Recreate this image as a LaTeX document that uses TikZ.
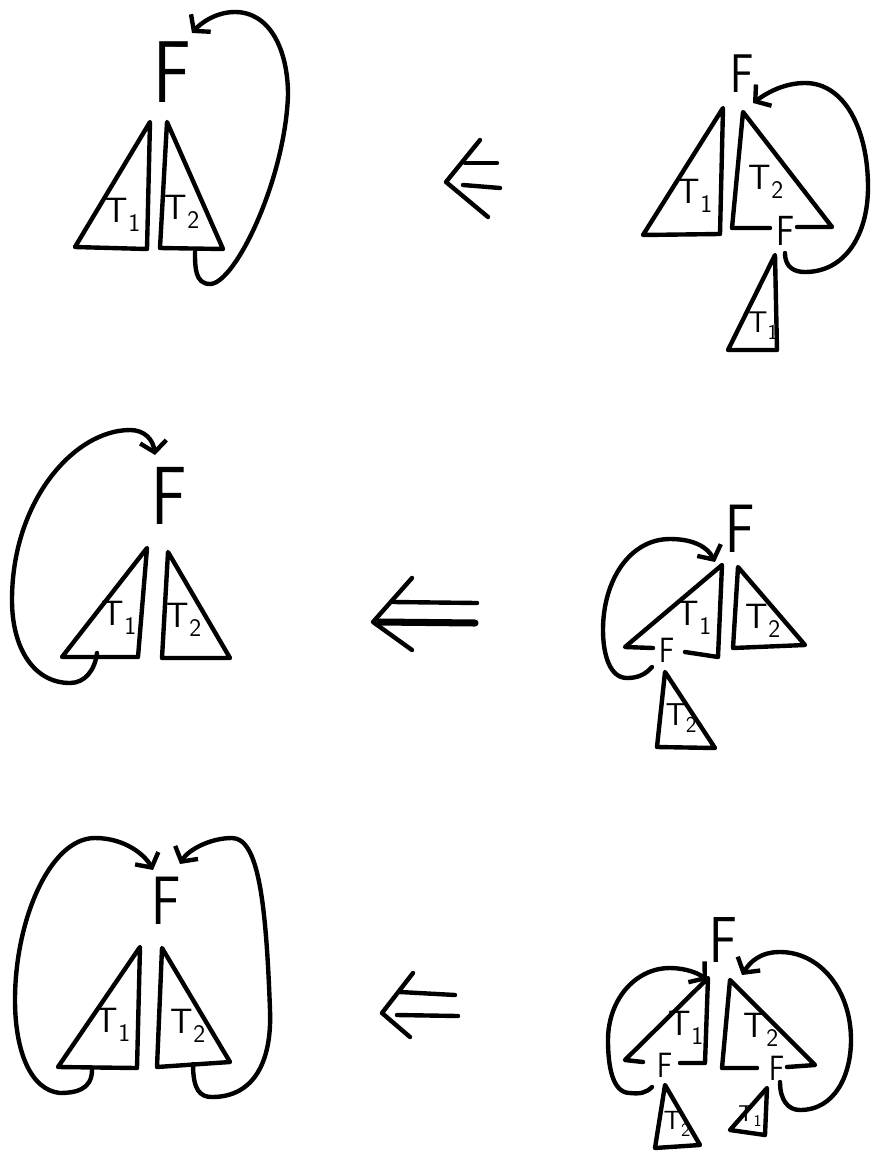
\documentclass[tikz,border=0pt]{standalone}
\usepackage{graphicx}
\usetikzlibrary{arrows.meta}
\tikzset{
  pen/.style={line width=2.5pt, line cap=round, line join=round},
  tri/.style={pen},
  back/.style={pen, -{Straight Barb[length=6pt, width=15pt]}},
  letterF/.style={inner sep=0pt, font=\sffamily\fontsize{#1}{#1}\selectfont},
  tlab/.style={inner sep=0pt, font=\sffamily\fontsize{#1}{#1}\selectfont}
}
\newcommand{\lF}{\scalebox{0.8}[1]{F}}
\newcommand{\tsub}[1]{\raisebox{-0.55ex}{\scalebox{0.72}{#1}}}

\begin{document}
\begin{tikzpicture}[x=0.02cm, y=-0.02cm]
\useasboundingbox (0,0) rectangle (873,1170);

% row 1, left
\node[letterF=50] (f1) at (172,72) {\lF};
\draw[tri] (150,122) -- (75,247) -- (147,249) -- cycle;
\draw[tri] (167,122) -- (160,248) -- (223,249) -- cycle;
\node[tlab=20] (t11) at (123,215) {T\tsub{1}};
\node[tlab=20] (t12) at (182,212) {T\tsub{2}};
\coordinate (b1s) at (195,252);
\coordinate (b1e) at (192,33);
\draw[back] (b1s) .. controls (195,267) and (195,284) .. (210,284)
  .. controls (235,284) and (285,180) .. (288,95)
  .. controls (288,50) and (270,12) .. (235,12)
  .. controls (215,12) and (200,24) .. (b1e);

% row 1, right
\node[letterF=31] (f2) at (742,74) {\lF};
\draw[tri] (723,108) -- (643,235) -- (720,234) -- cycle;
\draw[tri] (770,228) -- (732,228) -- (743,112) -- (832,227) -- (797,227);
\node[letterF=24] (f2s) at (786,231) {\lF};
\draw[tri] (775,255) -- (728,350) -- (777,350) -- cycle;
\node[tlab=20] (t21) at (695,196) {T\tsub{1}};
\node[tlab=20] (t22) at (766,182) {T\tsub{2}};
\node[tlab=17] (t21s) at (763,326) {T\tsub{1}};
\coordinate (b2s) at (785,253);
\coordinate (b2e) at (753,103);
\draw[back] (b2s) .. controls (785,268) and (795,272) .. (805,272)
  .. controls (845,272) and (868,235) .. (868,187)
  .. controls (868,130) and (845,83) .. (805,83)
  .. controls (785,83) and (768,92) .. (b2e);

% implication 1
\draw[pen] (480,140) -- (446,182) -- (488,217);
\draw[pen] (465,163) -- (497,163);
\draw[pen] (463,185) -- (500,188);

% row 2, left
\node[letterF=47] (f3) at (169,496) {\lF};
\draw[tri] (147,548) -- (62,657) -- (138,657) -- cycle;
\draw[tri] (168,552) -- (162,658) -- (230,658) -- cycle;
\node[tlab=20] (t31) at (119,618) {T\tsub{1}};
\node[tlab=20] (t32) at (184,620) {T\tsub{2}};
\coordinate (b3s) at (97,653);
\coordinate (b3e) at (155,455);
\draw[back] (b3s) .. controls (95,670) and (85,683) .. (70,683)
  .. controls (35,683) and (12,650) .. (12,600)
  .. controls (12,500) and (75,430) .. (130,430)
  .. controls (145,430) and (153,440) .. (b3e);

% row 2, right
\node[letterF=39] (f4) at (740,529) {\lF};
\draw[tri] (653,648) -- (625,647) -- (722,565) -- (718,657) -- (685,652);
\node[letterF=20] (f4s) at (667,650) {\lF};
\draw[tri] (738,567) -- (733,648) -- (805,645) -- cycle;
\draw[tri] (665,672) -- (657,747) -- (715,748) -- cycle;
\node[tlab=20] (t41) at (694,618) {T\tsub{1}};
\node[tlab=20] (t42) at (763,621) {T\tsub{2}};
\node[tlab=18] (t42s) at (681,718) {T\tsub{2}};
\coordinate (b4s) at (652,667);
\coordinate (b4e) at (715,562);
\draw[back] (b4s) .. controls (645,675) and (637,678) .. (627,678)
  .. controls (610,678) and (603,655) .. (603,630)
  .. controls (603,580) and (630,539) .. (670,539)
  .. controls (695,539) and (708,548) .. (b4e);

% implication 2
\draw[pen] (412,578) -- (373,622) -- (412,650);
\draw[pen] (393,602) -- (477,603);
\draw[pen, line width=4pt] (380,622) -- (475,623);

% row 3, left
\node[letterF=39] (f5) at (166,901) {\lF};
\draw[tri] (140,947) -- (58,1067) -- (137,1068) -- cycle;
\draw[tri] (162,948) -- (157,1067) -- (230,1062) -- cycle;
\node[tlab=20] (t51) at (113,1025) {T\tsub{1}};
\node[tlab=20] (t52) at (188,1026) {T\tsub{2}};
\coordinate (b5s) at (92,1070);
\coordinate (b5e) at (153,870);
\draw[back] (b5s) .. controls (92,1090) and (75,1093) .. (60,1093)
  .. controls (30,1090) and (15,1050) .. (15,1000)
  .. controls (15,920) and (50,838) .. (95,838)
  .. controls (125,838) and (145,855) .. (b5e);
\coordinate (b6s) at (193,1064);
\coordinate (b6e) at (180,864);
\draw[back] (b6s) .. controls (193,1090) and (200,1097) .. (212,1097)
  .. controls (255,1097) and (272,1060) .. (270,1010)
  .. controls (266,900) and (258,838) .. (232,838)
  .. controls (210,838) and (188,850) .. (b6e);

% row 3, right
\node[letterF=37] (f6) at (723,940) {\lF};
\draw[tri] (643,1062) -- (625,1060) -- (708,978) -- (705,1063) -- (680,1063);
\draw[tri] (757,1068) -- (722,1068) -- (730,980) -- (815,1065) -- (787,1067);
\node[letterF=20] (f6l) at (665,1065) {\lF};
\node[letterF=20] (f6r) at (777,1068) {\lF};
\draw[tri] (665,1085) -- (655,1148) -- (700,1145) -- cycle;
\draw[tri] (767,1088) -- (730,1130) -- (765,1135) -- cycle;
\node[tlab=20] (t61) at (686,1028) {T\tsub{1}};
\node[tlab=20] (t62) at (761,1030) {T\tsub{2}};
\node[tlab=15] (t62s) at (677,1124) {T\tsub{2}};
\node[tlab=13] (t61s) at (750,1116) {T\tsub{1}};
\coordinate (b7s) at (652,1087);
\coordinate (b7e) at (707,980);
\draw[back] (b7s) .. controls (646,1093) and (640,1094) .. (630,1093)
  .. controls (612,1093) and (608,1065) .. (608,1040)
  .. controls (608,1000) and (635,968) .. (670,968)
  .. controls (685,968) and (698,973) .. (b7e);
\coordinate (b8s) at (780,1082);
\coordinate (b8e) at (742,975);
\draw[back] (b8s) .. controls (780,1100) and (788,1110) .. (800,1110)
  .. controls (835,1110) and (851,1075) .. (851,1040)
  .. controls (851,990) and (820,952) .. (780,952)
  .. controls (760,952) and (750,962) .. (b8e);

% implication 3
\draw[pen] (413,973) -- (382,1013) -- (410,1037);
\draw[pen] (400,992) -- (455,995);
\draw[pen] (397,1015) -- (458,1016);
\end{tikzpicture}
\end{document}
